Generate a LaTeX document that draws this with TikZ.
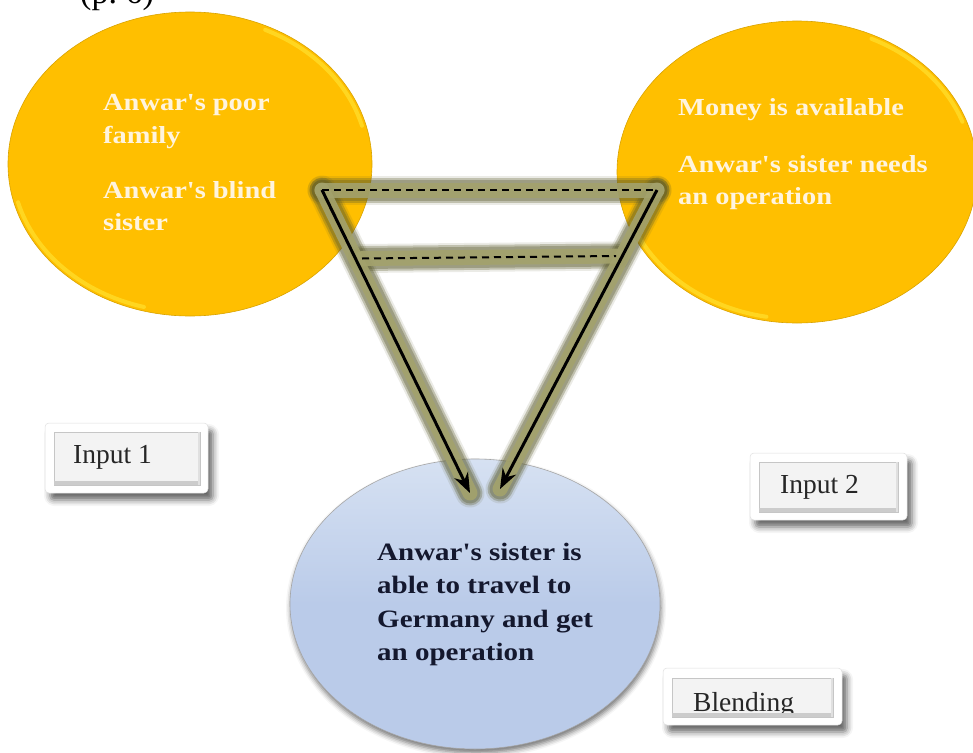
\documentclass[tikz,border=0pt]{standalone}
\usepackage{fontspec}
\setmainfont{Liberation Serif}
\newfontfamily\widefont[FakeStretch=1.16]{Liberation Serif}
\usetikzlibrary{shapes.geometric,arrows.meta,shadows.blur}

\definecolor{gold}{HTML}{FFBF00}
\definecolor{goldrim}{HTML}{FFE12E}
\definecolor{goldedge}{HTML}{D9A300}
\definecolor{skyfill}{HTML}{BACBE9}
\definecolor{skytop}{HTML}{D6E1F2}
\definecolor{cream}{HTML}{FFF4DE}
\definecolor{navyink}{HTML}{14182E}
\definecolor{oliveglow}{HTML}{A3A26C}
\definecolor{olivedark}{HTML}{5C5C2E}
\definecolor{panel}{HTML}{F3F3F3}
\definecolor{bevel}{HTML}{CCCCCC}

\begin{document}
\begin{tikzpicture}[x=1pt,y=-1pt,
  idea/.style={ellipse, fill=gold, draw=goldedge, line width=0.6pt, inner sep=0pt},
  rim/.style={draw=goldrim, line width=4pt, line cap=round, opacity=0.7},
  result/.style={ellipse, draw=gray!70, line width=0.6pt, top color=skytop,
    bottom color=skyfill, middle color=skyfill, inner sep=0pt,
    blur shadow={shadow xshift=1pt, shadow yshift=-4pt, shadow blur radius=5pt, shadow opacity=55}},
  lighttext/.style={anchor=base west, inner sep=0pt, text=cream,
    font=\widefont\bfseries\fontsize{24.5}{30}\selectfont},
  darktext/.style={anchor=base west, inner sep=0pt, text=navyink,
    font=\widefont\bfseries\fontsize{25}{30}\selectfont},
  tag/.style={rectangle, rounded corners=4pt, fill=white, draw=gray!25, line width=0.5pt,
    inner sep=0pt,
    blur shadow={shadow xshift=5pt, shadow yshift=-7pt, shadow blur radius=6pt, shadow opacity=60}},
  tagpanel/.style={rectangle, fill=panel, draw=gray!45, line width=0.5pt, inner sep=0pt},
  tagtext/.style={anchor=base west, inner sep=0pt, text=black!85,
    font=\fontsize{27.5}{30}\selectfont},
  glowhaze/.style={line width=29pt, draw=olivedark, opacity=0.12, line cap=round},
  glowout/.style={line width=25pt, draw=olivedark, opacity=0.3, line cap=round},
  glowmid/.style={line width=21pt, draw=olivedark, opacity=0.35, line cap=round},
  glowin/.style={line width=15pt, draw=oliveglow, opacity=0.9, line cap=round},
  link/.style={line width=3pt, draw=black, -{Stealth[length=20pt,width=15pt]}},
  dashlink/.style={line width=2pt, draw=black, dash pattern=on 7pt off 5pt},
]
\useasboundingbox (0,0) rectangle (973,752);
\clip (0,0) rectangle (973,752);

% page reference above the figure
\node[anchor=base west, inner sep=0pt, font=\fontsize{34}{36}\selectfont] (pageref) at (80,4) {(p.~6)};

% the two input spaces
\node[idea, minimum width=364pt, minimum height=304pt] (inA) at (190,164) {};
\node[idea, minimum width=360pt, minimum height=302pt] (inB) at (797,172) {};
% light rims along the edges
\draw[rim] (190,164) ++(105:178 and 148) arc[start angle=105, end angle=165, x radius=178, y radius=148];
\draw[rim] (190,164) ++(295:178 and 148) arc[start angle=295, end angle=345, x radius=178, y radius=148];
\draw[rim] (797,172) ++(100:176 and 147) arc[start angle=100, end angle=160, x radius=176, y radius=147];
\draw[rim] (797,172) ++(295:176 and 147) arc[start angle=295, end angle=340, x radius=176, y radius=147];

% the blended space
\node[result, minimum width=370pt, minimum height=290pt] (blend) at (475,604) {};

% anchor points of the mappings
\coordinate (lt) at (322,190);
\coordinate (rt) at (657,190);
\coordinate (lm) at (362,258.5);
\coordinate (rm) at (616,256);
\coordinate (tipL) at (470,493);
\coordinate (tipR) at (500,489);

% olive glow behind the mapping lines
\foreach \g in {glowhaze,glowout,glowmid,glowin}{
  \draw[\g] (lt) -- (rt);
  \draw[\g] (lm) -- (rm);
  \draw[\g] (lt) -- (tipL);
  \draw[\g] (rt) -- (tipR);
}

% cross-space mappings and projections into the blend
\draw[dashlink] (lt) -- (rt);
\draw[dashlink] (lm) -- (rm);
\draw[link] (lt) -- (tipL);
\draw[link] (rt) -- (tipR);

% texts of the input spaces
\node[lighttext] (a1) at (103,110) {Anwar's poor};
\node[lighttext] (a2) at (103,143) {family};
\node[lighttext] (a3) at (103,198) {Anwar's blind};
\node[lighttext] (a4) at (103,230) {sister};
\node[lighttext] (b1) at (678,115) {Money is available};
\node[lighttext] (b2) at (678,172) {Anwar's sister needs};
\node[lighttext] (b3) at (678,204) {an operation};

% text of the blend
\node[darktext] (c1) at (377,560) {Anwar's sister is};
\node[darktext] (c2) at (377,593) {able to travel to};
\node[darktext] (c3) at (377,627) {Germany and get};
\node[darktext] (c4) at (377,660) {an operation};

% labels
\node[tag, minimum width=163pt, minimum height=70pt] (tag1) at (126.5,458) {};
\node[tagpanel, minimum width=146pt, minimum height=53pt] (pan1) at (127,458.5) {};
\draw[bevel, line width=4pt] ([yshift=2.3pt]pan1.south west) -- ([yshift=2.3pt]pan1.south east);
\draw[bevel!60, line width=2pt] ([xshift=-1.3pt]pan1.north east) -- ([xshift=-1.3pt]pan1.south east);
\node[tagtext] (t1) at (73,463) {Input 1};

\node[tag, minimum width=157pt, minimum height=67pt] (tag2) at (828.5,486.5) {};
\node[tagpanel, minimum width=139pt, minimum height=50pt] (pan2) at (828.5,487) {};
\draw[bevel, line width=4pt] ([yshift=2.3pt]pan2.south west) -- ([yshift=2.3pt]pan2.south east);
\draw[bevel!60, line width=2pt] ([xshift=-1.3pt]pan2.north east) -- ([xshift=-1.3pt]pan2.south east);
\node[tagtext] (t2) at (780,493) {Input 2};

\node[tag, minimum width=179pt, minimum height=57pt] (tag3) at (752.5,696.5) {};
\node[tagpanel, minimum width=161pt, minimum height=39pt] (pan3) at (752.5,697.5) {};
\draw[bevel, line width=4pt] ([yshift=2.3pt]pan3.south west) -- ([yshift=2.3pt]pan3.south east);
\draw[bevel!60, line width=2pt] ([xshift=-1.3pt]pan3.north east) -- ([xshift=-1.3pt]pan3.south east);
\begin{scope}
  \clip (672,678) rectangle (833,712);
  \node[tagtext] (t3) at (693,711) {Blending};
\end{scope}
\end{tikzpicture}
\end{document}
